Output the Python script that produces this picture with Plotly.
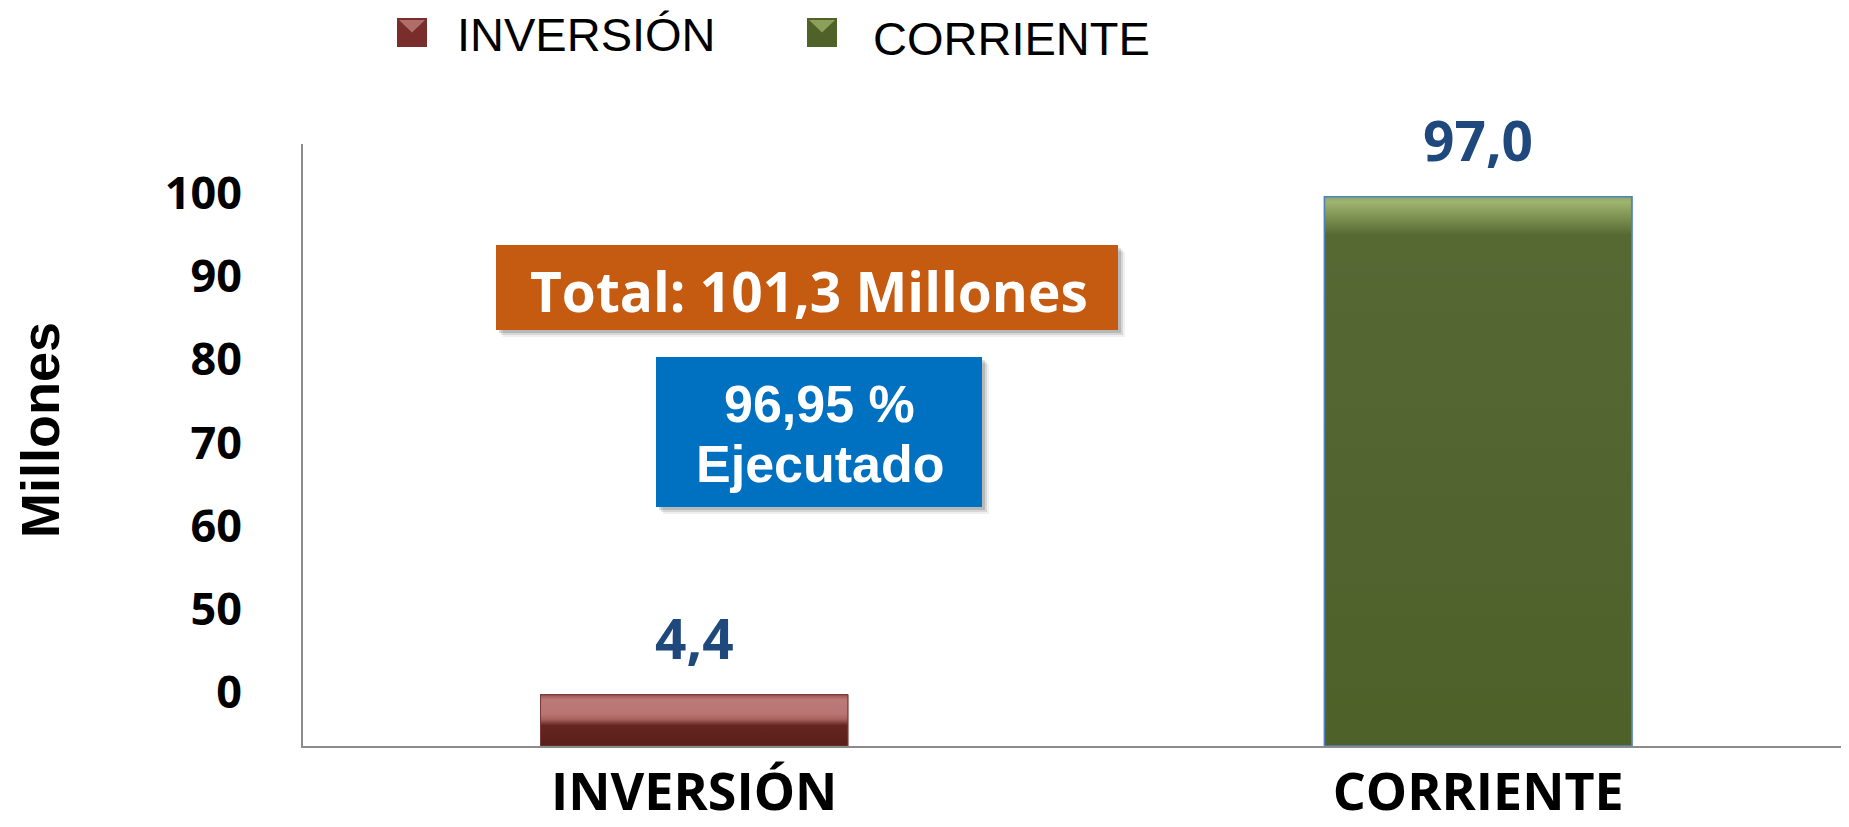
import plotly.graph_objects as go

# ---------------- data ----------------
categories = ["INVERSIÓN", "CORRIENTE"]
values = [4.4, 97.0]
tick_labels = ["0", "50", "60", "70", "80", "90", "100"]
total_text = "Total: 101,3 Millones"
pct_lines = ["96,95 %", "Ejecutado"]
y_title = "Millones"

# ---------------- layout constants ----------------
OFF = 8                      # default page body margin of the html page
PAGE_W, PAGE_H = 1849, 827
W, H = PAGE_W - OFF, PAGE_H - OFF
PLOT_L, PLOT_T, PLOT_B = 303, 144, 746   # page pixels of the plot area
L, T = PLOT_L - OFF, PLOT_T - OFF
B = PAGE_H - PLOT_B
R = 0
PW = W - L - R
PH = H - T - B
Y_MIN, Y_MAX = -5.17, 106.8
X_MIN, X_MAX = -0.499, 1.473
BAR_W = 0.392
TICK0, TICK_STEP = 4.77, 15.48

bar_fill = ["#7A2E2B", "#51632E"]
bar_line = ["#7A3A37", "#4F81BD"]
bar_line_w = [1, 1.5]
grad_scales = [
    [[0, "#5A1F1B"], [0.4, "#65251F"], [0.52, "#A8625F"], [0.62, "#B87573"],
     [0.9, "#BB7977"], [0.97, "#A45F5C"], [1, "#8A4744"]],
    [[0, "#4E6129"], [0.5, "#526430"], [0.93, "#566933"], [0.975, "#8CA15E"],
     [0.99, "#A0B472"], [1, "#93A866"]],
]
legend_dark = ["#7A2E2B", "#4F6228"]
legend_light = ["#B06D6B", "#8CA05A"]


def pxx(px):
    """page x pixel -> paper x"""
    return (px - PLOT_L) / PW


def pxy(py):
    """page y pixel -> paper y"""
    return (PLOT_B - py) / PH


def fmt(v):
    return f"{v:.1f}".replace(".", ",")


fig = go.Figure()

xs = list(range(len(categories)))
fig.add_trace(go.Bar(
    x=xs,
    y=[v - Y_MIN for v in values],
    base=Y_MIN,
    width=BAR_W,
    marker=dict(color=bar_fill, line=dict(color=bar_line, width=bar_line_w)),
    showlegend=False,
    hoverinfo="skip",
))

# gradient overlays built from the bar data
for i, v in enumerate(values):
    x0, x1 = xs[i] - BAR_W / 2, xs[i] + BAR_W / 2
    fig.add_trace(go.Scatter(
        x=[x0, x1, x1, x0, x0],
        y=[Y_MIN, Y_MIN, v, v, Y_MIN],
        mode="lines",
        fill="toself",
        fillgradient=dict(type="vertical", colorscale=grad_scales[i]),
        line=dict(color=bar_line[i], width=bar_line_w[i]),
        showlegend=False,
        hoverinfo="skip",
    ))

annotations = []
shapes = []

# value labels
for i, v in enumerate(values):
    annotations.append(dict(
        x=xs[i], y=v, xref="x", yref="y", text=fmt(v), showarrow=False,
        yanchor="middle", yshift=57,
        font=dict(family="Open Sans", size=55, color="#1F497D", weight="bold"),
    ))

# y title
annotations.append(dict(
    x=pxx(40), y=pxy(430), xref="paper", yref="paper", text=y_title,
    showarrow=False, textangle=-90, xanchor="center", yanchor="middle",
    font=dict(family="Liberation Sans", size=54, color="black", weight="bold"),
))

# manual legend
leg_boxes = [(397, 427, 18, 47), (807, 837, 18, 47)]
leg_text = [(455, 34.5), (871, 38.5)]
for i, name in enumerate(categories):
    bx0, bx1, by0, by1 = leg_boxes[i]
    shapes.append(dict(type="rect", xref="paper", yref="paper",
                       x0=pxx(bx0), x1=pxx(bx1), y0=pxy(by1), y1=pxy(by0),
                       fillcolor=legend_dark[i], line=dict(width=0)))
    cx, cy = (bx0 + bx1) / 2, (by0 + by1) / 2
    path = (f"M{pxx(bx0 + 2)},{pxy(by0 + 2)} L{pxx(bx1 - 2)},{pxy(by0 + 2)} "
            f"L{pxx(cx)},{pxy(cy)} Z")
    shapes.append(dict(type="path", xref="paper", yref="paper", path=path,
                       fillcolor=legend_light[i], line=dict(width=0)))
    tx, ty = leg_text[i]
    annotations.append(dict(
        x=pxx(tx), y=pxy(ty), xref="paper", yref="paper", text=name,
        showarrow=False, xanchor="left", yanchor="middle",
        font=dict(family="Liberation Sans", size=47, color="black"),
    ))

# boxes with shadows
boxes = [((496, 1118, 245, 330), "#C55A11"), ((656, 982, 357, 507), "#0070C0")]
for (x0, x1, y0, y1), col in boxes:
    for off, alpha in [(7, 0.06), (5, 0.10), (3, 0.14)]:
        shapes.append(dict(type="rect", xref="paper", yref="paper",
                           x0=pxx(x0 + off), x1=pxx(x1 + off),
                           y0=pxy(y1 + off), y1=pxy(y0 + off),
                           fillcolor=f"rgba(0,0,0,{alpha})", line=dict(width=0)))
    shapes.append(dict(type="rect", xref="paper", yref="paper",
                       x0=pxx(x0), x1=pxx(x1), y0=pxy(y1), y1=pxy(y0),
                       fillcolor=col, line=dict(width=0)))

annotations.append(dict(
    x=pxx(809), y=pxy(290), xref="paper", yref="paper", text=total_text,
    showarrow=False, xanchor="center", yanchor="middle",
    font=dict(family="Open Sans", size=55, color="white", weight="bold"),
))
for line, (cx, cy) in zip(pct_lines, [(819.5, 404), (820, 464)]):
    annotations.append(dict(
        x=pxx(cx), y=pxy(cy), xref="paper", yref="paper", text=line,
        showarrow=False, xanchor="center", yanchor="middle",
        font=dict(family="Liberation Sans", size=52, color="white", weight="bold"),
    ))

fig.update_layout(
    width=W, height=H,
    margin=dict(l=L, r=R, t=T, b=B, pad=0, autoexpand=False),
    paper_bgcolor="white", plot_bgcolor="white",
    showlegend=False,
    annotations=annotations,
    shapes=shapes,
    xaxis=dict(
        range=[X_MIN, X_MAX], tickvals=xs, ticktext=categories,
        showgrid=False, zeroline=False, showline=True, automargin=False,
        linecolor="#8C8C8C", linewidth=2, ticks="",
        ticklabelstandoff=0,
        tickfont=dict(family="Open Sans", size=52, color="black", weight="bold"),
        fixedrange=True,
    ),
    yaxis=dict(
        range=[Y_MIN, Y_MAX],
        tickvals=[TICK0 + i * TICK_STEP for i in range(len(tick_labels))],
        ticktext=tick_labels,
        showgrid=False, zeroline=False, showline=True, automargin=False,
        linecolor="#8C8C8C", linewidth=2, ticks="",
        ticklabelstandoff=50,
        tickfont=dict(family="Open Sans", size=45, color="black", weight="bold"),
        fixedrange=True,
    ),
)

fig.write_html("out.html")
